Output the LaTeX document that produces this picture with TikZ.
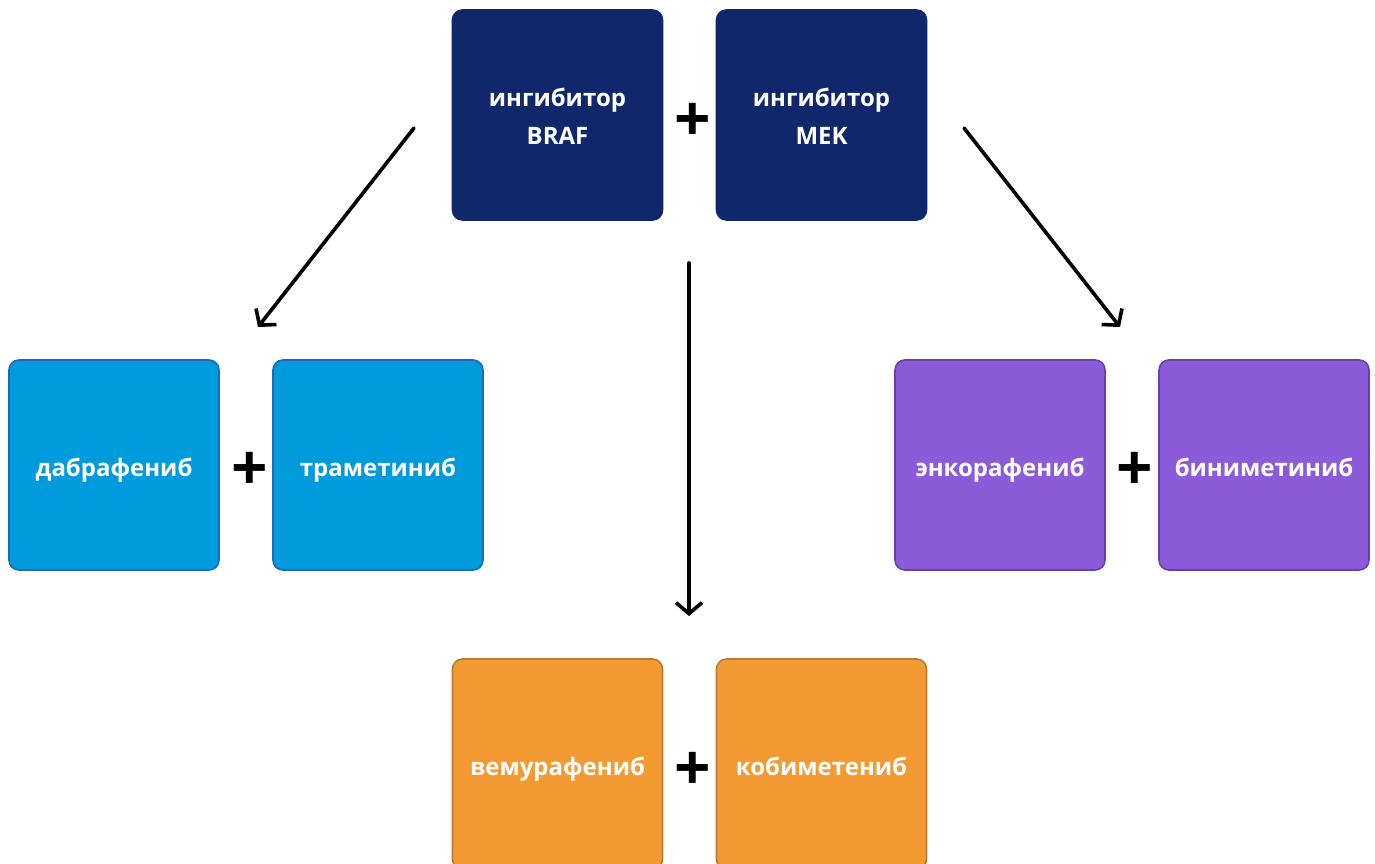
\documentclass[tikz,border=0pt]{standalone}
\usepackage{fontspec}
\setmainfont{Open Sans}
\usetikzlibrary{arrows.meta}
\definecolor{navy}{HTML}{10286B}
\definecolor{skyb}{HTML}{009BDD}
\definecolor{skybd}{HTML}{1A6BB8}
\definecolor{purp}{HTML}{8C5BDA}
\definecolor{purpd}{HTML}{6A3FA8}
\definecolor{orng}{HTML}{F39A33}
\definecolor{orngd}{HTML}{B87A35}
\tikzset{
  box/.style={rounded corners=10pt, minimum width=210pt, minimum height=210pt, inner sep=0pt,
    text=white, font=\fontsize{24}{38}\selectfont\bfseries, align=center, line width=1.6pt,
    text height=22pt, text depth=0pt},
  twoline/.style={text height=58pt, text depth=0pt},
  navybox/.style={box, fill=navy, draw=navy},
  bluebox/.style={box, fill=skyb, draw=skybd},
  purpbox/.style={box, fill=purp, draw=purpd},
  orngbox/.style={box, fill=orng, draw=orngd},
  plus/.style={font=\fontsize{64}{64}\selectfont\bfseries, inner sep=0pt},
  conn/.style={line width=3.6pt, -{Straight Barb[length=11pt,width=26pt]}, line cap=round}
}
\begin{document}
\begin{tikzpicture}[x=1pt,y=-1pt]
\useasboundingbox (0,0) rectangle (1375,863);
\clip (0,0) rectangle (1375,863);
\fill[white] (0,0) rectangle (1375,863);
% top
\node[navybox, twoline] (braf) at (557.5,115) {ингибитор\\BRAF};
\node[navybox, twoline] (mek) at (821.5,115) {ингибитор\\MEK};
\node[plus] (p1) at (693,122) {+};
% left
\node[bluebox] (dab) at (114,465) {дабрафениб};
\node[bluebox] (tra) at (378,465) {траметиниб};
\node[plus] (p2) at (250,471) {+};
% right
\node[purpbox] (enk) at (1000,465) {энкорафениб};
\node[purpbox] (bin) at (1264,465) {биниметиниб};
\node[plus] (p3) at (1135,471) {+};
% bottom
\node[orngbox] (vem) at (557.5,764) {вемурафениб};
\node[orngbox] (kob) at (821.5,764) {кобиметениб};
\node[plus] (p4) at (693,771) {+};
% connectors
\coordinate (a1s) at (414,128);
\coordinate (a1e) at (258,327);
\coordinate (a2s) at (689,263);
\coordinate (a2e) at (689,616);
\coordinate (a3s) at (964,128);
\coordinate (a3e) at (1120,327);
\draw[conn] (a1s) -- (a1e);
\draw[conn] (a2s) -- (a2e);
\draw[conn] (a3s) -- (a3e);
\end{tikzpicture}
\end{document}
